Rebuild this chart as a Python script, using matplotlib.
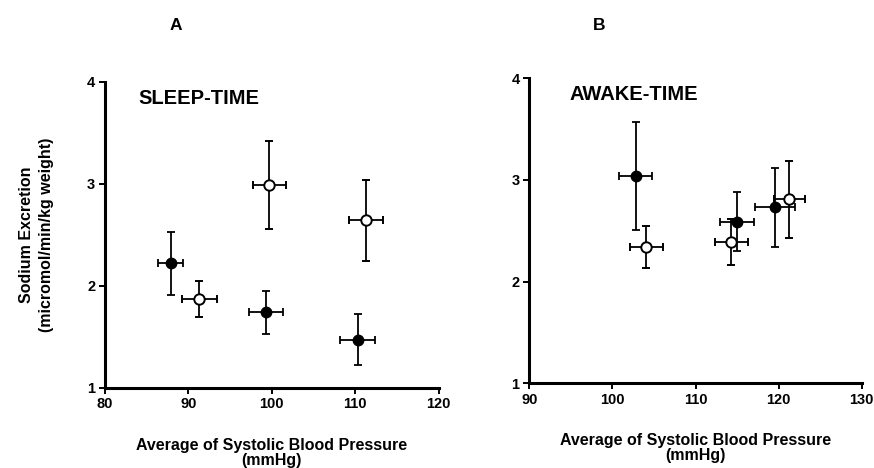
import matplotlib.pyplot as plt

plt.rcParams.update({'font.family': ['Liberation Sans', 'DejaVu Sans'], 'font.weight': 'bold'})

# Panel A: sleep-time (x = systolic BP, y = sodium excretion)
sleep_filled_x = [87.9, 99.3, 110.3]
sleep_filled_y = [2.22, 1.74, 1.47]
sleep_filled_xerr = [1.5, 2.0, 2.1]
sleep_filled_yerr = [0.31, 0.21, 0.25]

sleep_open_x = [91.3, 99.7, 111.3]
sleep_open_y = [1.87, 2.99, 2.64]
sleep_open_xerr = [2.1, 2.0, 2.0]
sleep_open_yerr = [0.18, 0.43, 0.40]

# Panel B: awake-time
awake_filled_x = [102.8, 115.0, 119.6]
awake_filled_y = [3.04, 2.59, 2.73]
awake_filled_xerr = [2.0, 2.0, 2.4]
awake_filled_yerr = [0.53, 0.29, 0.39]

awake_open_x = [104.1, 114.3, 121.3]
awake_open_y = [2.34, 2.39, 2.81]
awake_open_xerr = [2.0, 2.0, 1.9]
awake_open_yerr = [0.21, 0.23, 0.38]

fig = plt.figure(figsize=(8.74, 4.68), dpi=100)
axA = fig.add_axes([0.120, 0.172, 0.382, 0.653])
axB = fig.add_axes([0.6056, 0.181, 0.3804, 0.652])


def draw_panel(ax, fx, fy, fxe, fye, ox, oy, oxe, oye, xlim, xticks, title, title_x):
    ax.errorbar(fx, fy, xerr=fxe, yerr=fye, fmt='o', color='black', ms=7.5,
                mfc='black', mec='black', elinewidth=1.3, capsize=3, capthick=1.3, zorder=3)
    ax.errorbar(ox, oy, xerr=oxe, yerr=oye, fmt='o', color='black', ms=7.5,
                mfc='white', mec='black', mew=1.4, elinewidth=1.3, capsize=3, capthick=1.3, zorder=3)
    ax.set_xlim(*xlim)
    ax.set_ylim(1, 4)
    ax.set_xticks(xticks)
    ax.set_yticks([1, 2, 3, 4])
    for s in ['top', 'right']:
        ax.spines[s].set_visible(False)
    for s in ['left', 'bottom']:
        ax.spines[s].set_linewidth(2.2)
    ax.tick_params(direction='out', length=4, width=1.4, labelsize=10.5, pad=3)
    for lab in ax.get_xticklabels() + ax.get_yticklabels():
        lab.set_fontweight('bold')
    ax.text(title_x, 0.945, title, transform=ax.transAxes, fontsize=14.5,
            fontweight='bold', va='center', ha='left')
    ax.set_xlabel("Average of Systolic Blood Pressure\n(mmHg)", fontsize=11.5,
                  fontweight='bold', labelpad=19, linespacing=1.0)


draw_panel(axA, sleep_filled_x, sleep_filled_y, sleep_filled_xerr, sleep_filled_yerr,
           sleep_open_x, sleep_open_y, sleep_open_xerr, sleep_open_yerr,
           (80, 120), [80, 90, 100, 110, 120], "SLEEP-TIME", 0.10)
draw_panel(axB, awake_filled_x, awake_filled_y, awake_filled_xerr, awake_filled_yerr,
           awake_open_x, awake_open_y, awake_open_xerr, awake_open_yerr,
           (90, 130), [90, 100, 110, 120, 130], "AWAKE-TIME", 0.12)

axA.set_ylabel("Sodium Excretion\n(micromol/min/kg weight)", fontsize=11.5,
               fontweight='bold', labelpad=24, linespacing=1.35)

fig.text(176 / 874, 1 - 25 / 468, "A", fontsize=12.5, fontweight='bold', ha='center', va='center')
fig.text(599 / 874, 1 - 25 / 468, "B", fontsize=12.5, fontweight='bold', ha='center', va='center')

fig.savefig("out.png", dpi=100)
